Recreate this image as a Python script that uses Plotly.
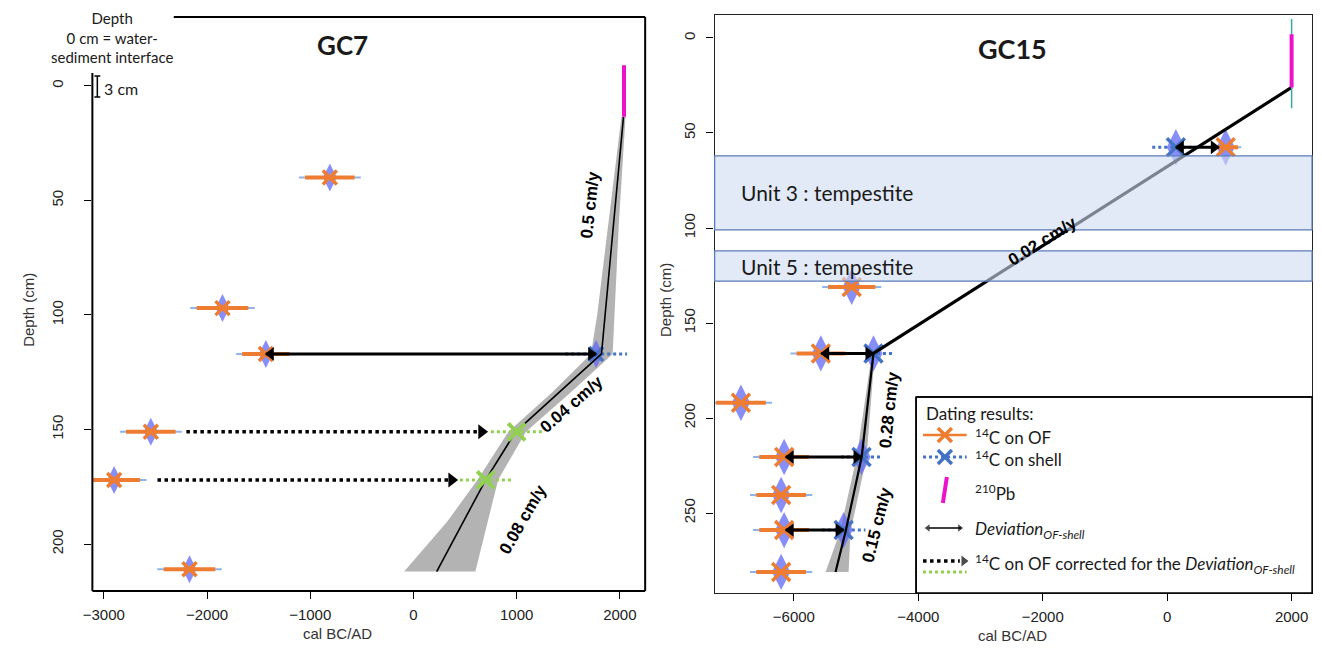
import plotly.graph_objects as go

W, H = 1322, 659

# ---------------- GC7 data ----------------
gc7_of_age = [-810, -1850, -1430, -2545, -2900, -2170]
gc7_of_depth = [40, 97, 117, 151, 172, 211]
gc7_of_err = [240, 250, 230, 240, 250, 250]
gc7_shell_age = [1770]
gc7_shell_depth = [117]
gc7_shell_err = [300]
gc7_corr_age = [1000, 700]
gc7_corr_depth = [151, 172]
gc7_corr_err = [250, 250]
gc7_dotarrow_from = [-2200, -2480]
gc7_dotarrow_to = [660, 370]
gc7_dev_from = [-1430]
gc7_dev_to = [1770]
gc7_dev_depth = [117]
gc7_pb_age = [2040, 2040]
gc7_pb_depth = [-9, 13.5]
gc7_model_depth = [13.5, 117, 151, 172, 212]
gc7_model_age = [2035, 1822, 990, 700, 225]
gc7_env_depth = [13.5, 60, 100, 117, 134, 151, 172, 190, 212]
gc7_env_lo = [2015, 1890, 1780, 1720, 1340, 920, 620, 330, -90]
gc7_env_hi = [2055, 1990, 1950, 1930, 1520, 1090, 820, 720, 600]
gc7_rates = ["0.5 cm/y", "0.04 cm/y", "0.08 cm/y"]
gc7_rate_age = [1707, 1530, 1063]
gc7_rate_depth = [52, 139, 189.5]
gc7_rate_angle = [-84, -41, -60]

# ---------------- GC15 data ----------------
gc15_of_age = [940, -5070, -5566, -6850, -6156, -6204, -6156, -6204]
gc15_of_depth = [57.5, 131, 166, 192, 220.5, 240.5, 259, 281]
gc15_of_err = [200, 380, 390, 400, 400, 400, 400, 400]
gc15_shell_age = [140, -4720, -4912, -5200]
gc15_shell_depth = [57.5, 166, 220.5, 259]
gc15_shell_err = [380, 330, 330, 350]
gc15_dev_from = [140, -4720, -4912, -5200]
gc15_dev_to = [830, -5560, -6130, -6130]
gc15_dev_depth = [57.5, 166, 220.5, 259]
gc15_pb_age = [2000, 2000]
gc15_pb_depth = [-2, 26]
gc15_pb_range = [-10, 37]
gc15_model_depth = [26, 166, 220.5, 260, 281]
gc15_model_age = [2000, -4720, -4910, -5170, -5330]
gc15_env_depth = [166, 220.5, 260, 281]
gc15_env_lo = [-4745, -4990, -5260, -5490]
gc15_env_hi = [-4700, -4830, -5090, -5120]
gc15_units = ["Unit 3 : tempestite", "Unit 5 : tempestite"]
gc15_unit_top = [62, 112]
gc15_unit_bot = [101, 128]
gc15_rates = ["0.02 cm/y", "0.28 cm/y", "0.15 cm/y"]
gc15_rate_age = [-2010, -4470, -4665]
gc15_rate_depth = [107, 196, 256]
gc15_rate_angle = [-32, -84, -76]

ORANGE = "#ee7d31"
BLUE = "#4472c4"
BLOB = "rgba(96,104,245,0.75)"
LBLUE = "#8fb4ea"
GREEN = "#92d050"
MAGENTA = "#ee11cc"
TEAL = "#3aa89c"
GREY = "#b3b3b3"
TXT = "Lato"
AX = "Liberation Sans"

# subplot geometry (pixels) and axis ranges
L_DOM = [83, 640]
R_DOM = [710, 1312]
L_XR = [-3111, 2245]
R_XR = [-7273, 2329]
L_YR = [220.5, -30.1]
R_YR = [292.1, -12.1]
YRS_PER_PX = {"x": (L_XR[1] - L_XR[0]) / (L_DOM[1] - L_DOM[0]),
              "x2": (R_XR[1] - R_XR[0]) / (R_DOM[1] - R_DOM[0])}


def seg(xs0, xs1, ys):
    X, Y = [], []
    for a, b, y in zip(xs0, xs1, ys):
        X += [a, b, None]
        Y += [y, y, None]
    return X, Y


fig = go.Figure()


def add_panel(xa, ya, of_age, of_depth, of_err, shell_age, shell_depth, shell_err,
              model_age, model_depth, env_lo, env_hi, env_depth, blob_size, xsize, model_w):
    fig.add_trace(go.Scatter(x=env_lo + env_hi[::-1], y=env_depth + env_depth[::-1],
                             fill="toself", fillcolor=GREY, line=dict(width=0),
                             mode="lines", xaxis=xa, yaxis=ya, hoverinfo="skip"))
    fig.add_trace(go.Scatter(x=of_age + shell_age, y=of_depth + shell_depth, mode="markers",
                             marker=dict(symbol="diamond-tall", size=blob_size, color=BLOB,
                                         line=dict(width=0)),
                             xaxis=xa, yaxis=ya, hoverinfo="skip"))
    lx, ly = seg([a - 1.25 * e for a, e in zip(of_age, of_err)],
                 [a + 1.25 * e for a, e in zip(of_age, of_err)], of_depth)
    fig.add_trace(go.Scatter(x=lx, y=ly, mode="lines", line=dict(color=LBLUE, width=2),
                             xaxis=xa, yaxis=ya, hoverinfo="skip"))
    ox, oy = seg([a - e for a, e in zip(of_age, of_err)],
                 [a + e for a, e in zip(of_age, of_err)], of_depth)
    fig.add_trace(go.Scatter(x=ox, y=oy, mode="lines", line=dict(color=ORANGE, width=4),
                             xaxis=xa, yaxis=ya, hoverinfo="skip"))
    fig.add_trace(go.Scatter(x=of_age, y=of_depth, mode="markers",
                             marker=dict(symbol="x-thin", size=xsize,
                                         line=dict(color=ORANGE, width=3.5)),
                             xaxis=xa, yaxis=ya, hoverinfo="skip"))
    sx, sy = seg([a - e for a, e in zip(shell_age, shell_err)],
                 [a + e for a, e in zip(shell_age, shell_err)], shell_depth)
    fig.add_trace(go.Scatter(x=sx, y=sy, mode="lines",
                             line=dict(color=BLUE, width=3, dash="dot"),
                             xaxis=xa, yaxis=ya, hoverinfo="skip"))
    fig.add_trace(go.Scatter(x=shell_age, y=shell_depth, mode="markers",
                             marker=dict(symbol="x-thin", size=xsize,
                                         line=dict(color=BLUE, width=3.5)),
                             xaxis=xa, yaxis=ya, hoverinfo="skip"))
    fig.add_trace(go.Scatter(x=model_age, y=model_depth, mode="lines",
                             line=dict(color="black", width=model_w),
                             xaxis=xa, yaxis=ya, hoverinfo="skip"))


def double_arrow(xa, ya, f, t, d, head=12, width=3):
    off = 5 * YRS_PER_PX[xa]
    lx, ly = seg(f, t, d)
    fig.add_trace(go.Scatter(x=lx, y=ly, mode="lines", line=dict(color="black", width=width),
                             xaxis=xa, yaxis=ya, hoverinfo="skip"))
    hx, hy, hs = [], [], []
    for a, b, y in zip(f, t, d):
        s = 1 if b > a else -1
        hx += [b - s * off, a + s * off]
        hy += [y, y]
        hs += ["triangle-right" if s > 0 else "triangle-left",
               "triangle-left" if s > 0 else "triangle-right"]
    fig.add_trace(go.Scatter(x=hx, y=hy, mode="markers",
                             marker=dict(symbol=hs, size=head, color="black", line=dict(width=0)),
                             xaxis=xa, yaxis=ya, hoverinfo="skip"))


# ---- GC7 ----
add_panel("x", "y", gc7_of_age, gc7_of_depth, gc7_of_err, gc7_shell_age, gc7_shell_depth,
          gc7_shell_err, gc7_model_age, gc7_model_depth, gc7_env_lo, gc7_env_hi,
          gc7_env_depth, 20, 14, 1.6)
gx, gy = seg([a - e for a, e in zip(gc7_corr_age, gc7_corr_err)],
             [a + e for a, e in zip(gc7_corr_age, gc7_corr_err)], gc7_corr_depth)
fig.add_trace(go.Scatter(x=gx, y=gy, mode="lines", line=dict(color=GREEN, width=3, dash="dot"),
                         xaxis="x", yaxis="y", hoverinfo="skip"))
fig.add_trace(go.Scatter(x=gc7_corr_age, y=gc7_corr_depth, mode="markers",
                         marker=dict(symbol="x-thin", size=17, line=dict(color=GREEN, width=4)),
                         xaxis="x", yaxis="y", hoverinfo="skip"))
dx, dy = seg(gc7_dotarrow_from, gc7_dotarrow_to, gc7_corr_depth)
fig.add_trace(go.Scatter(x=dx, y=dy, mode="lines", line=dict(color="black", width=3.5, dash="dot"),
                         xaxis="x", yaxis="y", hoverinfo="skip"))
fig.add_trace(go.Scatter(x=gc7_dotarrow_to, y=gc7_corr_depth, mode="markers",
                         marker=dict(symbol="triangle-right", size=13, color="black"),
                         xaxis="x", yaxis="y", hoverinfo="skip"))
fig.add_trace(go.Scatter(x=gc7_pb_age, y=gc7_pb_depth, mode="lines",
                         line=dict(color=MAGENTA, width=4), xaxis="x", yaxis="y", hoverinfo="skip"))
double_arrow("x", "y", gc7_dev_from, gc7_dev_to, gc7_dev_depth)

# ---- GC15 ----
add_panel("x2", "y2", gc15_of_age, gc15_of_depth, gc15_of_err, gc15_shell_age, gc15_shell_depth,
          gc15_shell_err, gc15_model_age[1:], gc15_model_depth[1:], gc15_env_lo, gc15_env_hi,
          gc15_env_depth, 26, 18, 2.2)
fig.add_trace(go.Scatter(x=gc15_model_age[:2], y=gc15_model_depth[:2], mode="lines",
                         line=dict(color="black", width=3.2), xaxis="x2", yaxis="y2",
                         hoverinfo="skip"))
fig.add_trace(go.Scatter(x=gc15_pb_age, y=gc15_pb_range, mode="lines",
                         line=dict(color=TEAL, width=1.5), xaxis="x2", yaxis="y2", hoverinfo="skip"))
fig.add_trace(go.Scatter(x=gc15_pb_age, y=gc15_pb_depth, mode="lines",
                         line=dict(color=MAGENTA, width=4), xaxis="x2", yaxis="y2", hoverinfo="skip"))
double_arrow("x2", "y2", gc15_dev_from, gc15_dev_to, gc15_dev_depth)

for xa, ya, txts, ags, dps, angs in [("x", "y", gc7_rates, gc7_rate_age, gc7_rate_depth, gc7_rate_angle),
                                     ("x2", "y2", gc15_rates, gc15_rate_age, gc15_rate_depth, gc15_rate_angle)]:
    for t, a, d, g in zip(txts, ags, dps, angs):
        fig.add_annotation(x=a, y=d, xref=xa, yref=ya, text="<b>" + t + "</b>", showarrow=False,
                           textangle=g, font=dict(family=AX, size=17, color="black"))

for name, top, bot in zip(gc15_units, gc15_unit_top, gc15_unit_bot):
    fig.add_shape(type="rect", xref="x2 domain", yref="y2", x0=0, x1=1, y0=top, y1=bot,
                  fillcolor="rgba(206,220,242,0.6)", line=dict(color="#5b7cb8", width=1.3),
                  layer="above")
    fig.add_annotation(x=0.04, y=(top + bot) / 2, xref="x2 domain", yref="y2", text=name,
                       showarrow=False, xanchor="left",
                       font=dict(family=TXT, size=21, color="#1a1a1a"))

tickfont = dict(family=AX, size=15, color="#222")
fig.update_layout(
    width=W, height=H, margin=dict(l=0, r=0, t=0, b=0),
    paper_bgcolor="white", plot_bgcolor="rgba(0,0,0,0)", showlegend=False,
    xaxis=dict(domain=[L_DOM[0] / W, L_DOM[1] / W], range=L_XR, anchor="y",
               tickvals=[-3000, -2000, -1000, 0, 1000, 2000], ticks="outside", ticklen=7,
               tickcolor="black", tickwidth=1.2, showgrid=False, zeroline=False, showline=False,
               tickfont=tickfont, ticklabelstandoff=3),
    yaxis=dict(domain=[1 - 591 / H, 1 - 17 / H], range=L_YR, anchor="x",
               tickvals=[0, 50, 100, 150, 200], ticks="outside", ticklen=7, tickcolor="black",
               tickwidth=1.2, showgrid=False, zeroline=False, showline=False, tickangle=-90,
               tickfont=tickfont, ticklabelstandoff=15),
    xaxis2=dict(domain=[R_DOM[0] / W, R_DOM[1] / W], range=R_XR, anchor="y2",
                tickvals=[-6000, -4000, -2000, 0, 2000], ticks="outside", ticklen=7,
                tickcolor="black", tickwidth=1.2, showgrid=False, zeroline=False, showline=True,
                mirror=True, linecolor="#222", linewidth=1.3, tickfont=tickfont,
                ticklabelstandoff=3),
    yaxis2=dict(domain=[1 - 593 / H, 1 - 15 / H], range=R_YR, anchor="x2",
                tickvals=[0, 50, 100, 150, 200, 250], ticks="outside", ticklen=7,
                tickcolor="black", tickwidth=1.2, showgrid=False, zeroline=False, showline=True,
                mirror=True, linecolor="#222", linewidth=1.3, tickangle=-90, tickfont=tickfont,
                ticklabelstandoff=5),
    xaxis3=dict(domain=[0, 1], range=[0, W], anchor="y3", visible=False, fixedrange=True),
    yaxis3=dict(domain=[0, 1], range=[H, 0], anchor="x3", visible=False, fixedrange=True),
)


def pline(x0, y0, x1, y1, color="black", width=2, dash=None):
    fig.add_shape(type="line", xref="x3", yref="y3", x0=x0, y0=y0, x1=x1, y1=y1,
                  line=dict(color=color, width=width, dash=dash), layer="above")


def ptext(x, y, t, size=15, family=TXT, anchor="center", angle=0, color="#1a1a1a"):
    fig.add_annotation(x=x, y=y, xref="x3", yref="y3", text=t, showarrow=False,
                       xanchor=anchor, textangle=angle, font=dict(family=family, size=size, color=color))


# partial frame of GC7
pline(165, 17, 640, 17)
pline(640, 17, 640, 591)
pline(83, 591, 640, 591)
pline(83, 73, 83, 591)
# 3 cm marker
pline(88, 76, 88, 97, width=1.5)
pline(85, 76, 91, 76, width=1.5)
pline(85, 97, 91, 97, width=1.5)
ptext(93, 88, "3 cm", size=16, anchor="left")
ptext(103, 37, "Depth<br>0 cm = water-<br>sediment interface", size=15)

ptext(335, 45, "<b>GC7</b>", size=26)
ptext(1010, 48, "<b>GC15</b>", size=27)
ptext(330, 633, "cal BC/AD", size=15, family=AX, color="#333")
ptext(1010, 635, "cal BC/AD", size=15, family=AX, color="#333")
ptext(18, 310, "Depth (cm)", size=15, family=AX, angle=-90, color="#333")
ptext(660, 300, "Depth (cm)", size=15, family=AX, angle=-90, color="#333")

# legend box (drawn below traces so the legend symbols stay visible)
fig.add_shape(type="rect", xref="x3", yref="y3", x0=913, x1=1312, y0=397, y1=593,
              line=dict(color="black", width=1.5), fillcolor="white", layer="below")
pline(913, 397, 1312, 397, width=1.5)
pline(913, 397, 913, 593, width=1.5)
ptext(921, 413, "Dating results:", size=17, anchor="left")
pline(920, 435, 964, 435, color=ORANGE, width=2.5)
pline(920, 457, 964, 457, color=BLUE, width=3, dash="dot")
pline(940, 503, 944, 477, color=MAGENTA, width=4)
pline(920, 561, 957, 561, color="black", width=3.5, dash="dot")
pline(920, 572, 964, 572, color=GREEN, width=3, dash="dot")
pline(926, 528, 958, 528, color="black", width=1.5)
leg_x = [942, 942]
leg_y = [435, 457]
fig.add_trace(go.Scatter(x=leg_x, y=leg_y, mode="markers", xaxis="x3", yaxis="y3",
                         marker=dict(symbol="x-thin", size=14,
                                     line=dict(color=[ORANGE, BLUE], width=3.5)),
                         hoverinfo="skip"))
fig.add_trace(go.Scatter(x=[961, 957, 925], y=[561, 528, 528], mode="markers", xaxis="x3", yaxis="y3",
                         marker=dict(symbol=["triangle-right", "triangle-right", "triangle-left"],
                                     size=[11, 8, 8], color="black"),
                         hoverinfo="skip"))
ptext(970, 436, "<sup>14</sup>C on OF", size=17, anchor="left")
ptext(970, 458, "<sup>14</sup>C on shell", size=17, anchor="left")
ptext(970, 492, "<sup>210</sup>Pb", size=17, anchor="left")
ptext(970, 530, "<i>Deviation<sub>OF-shell</sub></i>", size=17, anchor="left")
ptext(970, 564, "<sup>14</sup>C on OF corrected for the <i>Deviation<sub>OF-shell</sub></i>",
      size=17, anchor="left")

fig.write_html("out.html")
